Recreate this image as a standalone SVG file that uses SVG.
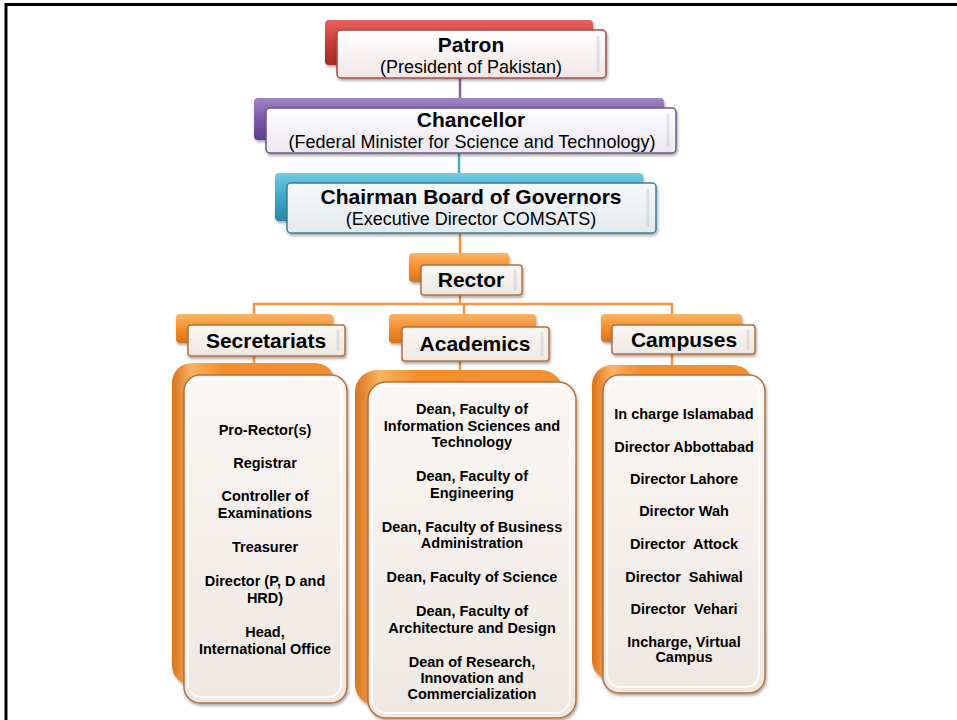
<svg xmlns="http://www.w3.org/2000/svg" width="957" height="720" viewBox="0 0 957 720">
<defs>
<linearGradient id="gRed" x1="0" y1="0" x2="0" y2="1"><stop offset="0" stop-color="#e8625c"/><stop offset="0.5" stop-color="#cf3a35"/><stop offset="1" stop-color="#a82723"/></linearGradient>
<linearGradient id="gPur" x1="0" y1="0" x2="0" y2="1"><stop offset="0" stop-color="#a084c6"/><stop offset="0.5" stop-color="#7d58ac"/><stop offset="1" stop-color="#5e3f8c"/></linearGradient>
<linearGradient id="gBlu" x1="0" y1="0" x2="0" y2="1"><stop offset="0" stop-color="#72cbe3"/><stop offset="0.5" stop-color="#3ba8c8"/><stop offset="1" stop-color="#2987a6"/></linearGradient>
<linearGradient id="gOra" x1="0" y1="0" x2="0" y2="1"><stop offset="0" stop-color="#fcb466"/><stop offset="0.5" stop-color="#f48e2c"/><stop offset="1" stop-color="#d9731b"/></linearGradient>
<linearGradient id="gOraH" x1="0" y1="0" x2="1" y2="0"><stop offset="0" stop-color="#d9731b"/><stop offset="0.12" stop-color="#fbb262"/><stop offset="0.3" stop-color="#f48e2c"/><stop offset="1" stop-color="#f29030"/></linearGradient>
<linearGradient id="fRed" x1="0" y1="0" x2="0" y2="1"><stop offset="0" stop-color="#ffffff"/><stop offset="1" stop-color="#f1e6e5"/></linearGradient>
<linearGradient id="fPur" x1="0" y1="0" x2="0" y2="1"><stop offset="0" stop-color="#ffffff"/><stop offset="1" stop-color="#ebe7f1"/></linearGradient>
<linearGradient id="fBlu" x1="0" y1="0" x2="0" y2="1"><stop offset="0" stop-color="#f6f9fb"/><stop offset="1" stop-color="#e3eaee"/></linearGradient>
<linearGradient id="fOra" x1="0" y1="0" x2="0" y2="1"><stop offset="0" stop-color="#faf7f4"/><stop offset="1" stop-color="#efe8e2"/></linearGradient>
<filter id="sh" x="-10%" y="-10%" width="130%" height="140%"><feDropShadow dx="1" dy="2" stdDeviation="1.5" flood-color="#000" flood-opacity="0.35"/></filter>
</defs>
<style>
.t{font-family:"Liberation Sans",Arial,sans-serif;text-anchor:middle;fill:#000}
.tb{font-weight:bold;font-size:21px}
.ts{font-size:18px}
.li{font-weight:bold;font-size:14.5px}
.back{filter:url(#sh)}
.front{filter:url(#sh);stroke-width:1.5}
.gl{fill:none;stroke:#ffffff;stroke-opacity:0.8;stroke-width:2}
.gl2{fill:none;stroke:#bbbbbb;stroke-opacity:0.35;stroke-width:3}
.con{fill:none;stroke-width:2.5}
</style>
<rect x="0" y="0" width="957" height="720" fill="#ffffff"/>
<path d="M6,720 V4.5 H957" fill="none" stroke="#000" stroke-width="3"/>

<g id="connectors">
<line class="con" x1="460" y1="78" x2="460" y2="98" stroke="#8064a2"/>
<line class="con" x1="459" y1="153" x2="459" y2="173" stroke="#4bacc6"/>
<line class="con" x1="460" y1="233" x2="460" y2="253" stroke="#f79646"/>
<path class="con" d="M460,295 V304 M254,314 V304 H672 V314 M464,304 V314" stroke="#f79646"/>
<line class="con" x1="254" y1="356" x2="254" y2="364" stroke="#f79646"/>
<line class="con" x1="460" y1="361" x2="460" y2="371" stroke="#f79646"/>
<line class="con" x1="672" y1="354" x2="672" y2="366" stroke="#f79646"/>
</g>

<g id="patron">
<rect class="back" x="325" y="20" width="268" height="45" rx="4" fill="url(#gRed)"/>
<rect class="front" x="337" y="30" width="269" height="48" rx="4" fill="url(#fRed)" stroke="#a84a47"/>
<line class="gl2" x1="598" y1="36" x2="598" y2="72"/>
<text class="t tb" x="471" y="52">Patron</text>
<text class="t ts" x="471" y="73">(President of Pakistan)</text>
</g>

<g id="chancellor">
<rect class="back" x="254" y="98" width="410" height="42" rx="4" fill="url(#gPur)"/>
<rect class="front" x="266" y="108" width="410" height="45" rx="4" fill="url(#fPur)" stroke="#6b5788"/>
<line class="gl2" x1="668" y1="114" x2="668" y2="147"/>
<text class="t tb" x="471" y="127">Chancellor</text>
<text class="t ts" x="472" y="148">(Federal Minister for Science and Technology)</text>
</g>

<g id="chairman">
<rect class="back" x="275" y="173" width="368" height="48" rx="4" fill="url(#gBlu)"/>
<rect class="front" x="287" y="183" width="369" height="50" rx="4" fill="url(#fBlu)" stroke="#3d7f95"/>
<line class="gl2" x1="648" y1="189" x2="648" y2="227"/>
<text class="t tb" x="471" y="204">Chairman Board of Governors</text>
<text class="t ts" x="471" y="225">(Executive Director COMSATS)</text>
</g>

<g id="rector">
<rect class="back" x="409" y="253" width="100" height="29" rx="4" fill="url(#gOra)"/>
<rect class="front" x="421" y="265" width="101" height="30" rx="3" fill="url(#fOra)" stroke="#b5703a"/>
<line class="gl2" x1="515" y1="270" x2="515" y2="290"/>
<text class="t tb" x="471" y="287">Rector</text>
</g>

<g id="secretariats">
<rect class="back" x="176" y="314" width="157" height="29" rx="4" fill="url(#gOra)"/>
<rect class="front" x="188" y="325" width="157" height="31" rx="3" fill="url(#fOra)" stroke="#b5703a"/>
<line class="gl2" x1="338" y1="330" x2="338" y2="351"/>
<text class="t tb" x="266" y="348">Secretariats</text>
</g>

<g id="academics">
<rect class="back" x="389" y="314" width="147" height="29" rx="4" fill="url(#gOra)"/>
<rect class="front" x="402" y="327" width="147" height="34" rx="3" fill="url(#fOra)" stroke="#b5703a"/>
<line class="gl2" x1="542" y1="332" x2="542" y2="356"/>
<text class="t tb" x="475" y="351">Academics</text>
</g>

<g id="campuses">
<rect class="back" x="601" y="314" width="141" height="28" rx="4" fill="url(#gOra)"/>
<rect class="front" x="612" y="325" width="143" height="29" rx="3" fill="url(#fOra)" stroke="#b5703a"/>
<line class="gl2" x1="748" y1="330" x2="748" y2="349"/>
<text class="t tb" x="684" y="347">Campuses</text>
</g>

<g id="secretariats-list">
<rect class="back" x="172" y="363" width="163" height="322" rx="20" fill="url(#gOraH)"/>
<rect class="front" x="184" y="375" width="163" height="328" rx="16" fill="url(#fOra)" stroke="#b5703a"/>
<rect class="gl" x="188" y="379" width="153" height="318" rx="13"/>
<text class="t li" x="265" y="435">Pro-Rector(s)</text>
<text class="t li" x="265" y="468">Registrar</text>
<text class="t li" x="265" y="501">Controller of</text>
<text class="t li" x="265" y="518">Examinations</text>
<text class="t li" x="265" y="552">Treasurer</text>
<text class="t li" x="265" y="586">Director (P, D and</text>
<text class="t li" x="265" y="603">HRD)</text>
<text class="t li" x="265" y="637">Head,</text>
<text class="t li" x="265" y="654">International Office</text>
</g>

<g id="academics-list">
<rect class="back" x="355" y="370" width="208" height="336" rx="22" fill="url(#gOraH)"/>
<rect class="front" x="368" y="382" width="208" height="336" rx="18" fill="url(#fOra)" stroke="#b5703a"/>
<rect class="gl" x="372" y="386" width="198" height="327" rx="15"/>
<text class="t li" x="472" y="414">Dean, Faculty of</text>
<text class="t li" x="472" y="431">Information Sciences and</text>
<text class="t li" x="472" y="447">Technology</text>
<text class="t li" x="472" y="481">Dean, Faculty of</text>
<text class="t li" x="472" y="498">Engineering</text>
<text class="t li" x="472" y="532">Dean, Faculty of Business</text>
<text class="t li" x="472" y="548">Administration</text>
<text class="t li" x="472" y="582">Dean, Faculty of Science</text>
<text class="t li" x="472" y="616">Dean, Faculty of</text>
<text class="t li" x="472" y="633">Architecture and Design</text>
<text class="t li" x="472" y="667">Dean of Research,</text>
<text class="t li" x="472" y="683">Innovation and</text>
<text class="t li" x="472" y="699">Commercialization</text>
</g>

<g id="campuses-list">
<rect class="back" x="592" y="365" width="161" height="315" rx="20" fill="url(#gOraH)"/>
<rect class="front" x="603" y="375" width="162" height="318" rx="16" fill="url(#fOra)" stroke="#b5703a"/>
<rect class="gl" x="607" y="379" width="152" height="308" rx="13"/>
<text class="t li" x="684" y="419">In charge Islamabad</text>
<text class="t li" x="684" y="452">Director Abbottabad</text>
<text class="t li" x="684" y="484">Director Lahore</text>
<text class="t li" x="684" y="516">Director Wah</text>
<text class="t li" x="684" y="549" xml:space="preserve">Director  Attock</text>
<text class="t li" x="684" y="582" xml:space="preserve">Director  Sahiwal</text>
<text class="t li" x="684" y="614" xml:space="preserve">Director  Vehari</text>
<text class="t li" x="684" y="647">Incharge, Virtual</text>
<text class="t li" x="684" y="662">Campus</text>
</g>
</svg>
